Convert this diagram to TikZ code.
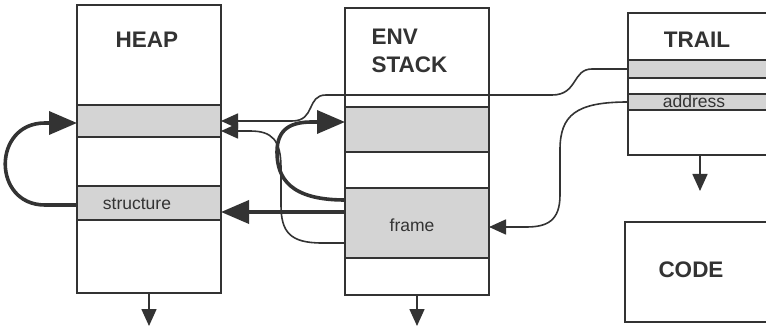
\documentclass[tikz,border=0pt]{standalone}
\usepackage{fontspec}
\setmainfont{Liberation Sans}
\usetikzlibrary{positioning, arrows.meta}
\definecolor{ink}{HTML}{333333}
\definecolor{shade}{HTML}{D4D4D4}

\begin{document}
\begin{tikzpicture}[
    x=1pt, y=-1pt,
    cell/.style={draw=ink, line width=2pt, minimum width=144pt, inner sep=0pt, outer sep=0pt},
    band/.style={cell, fill=shade},
    title/.style={text=ink, font=\bfseries\fontsize{22.5}{28}\selectfont},
    tag/.style={text=ink, font=\fontsize{17.5}{20}\selectfont},
    link/.style={draw=ink, line width=1.6pt, -{Triangle[length=17pt, width=15pt]}},
    bold link/.style={draw=ink, line width=3.6pt, -{Triangle[length=28pt, width=23pt]}}
]
    \useasboundingbox (0,0) rectangle (766,331);
    \clip (0,0) rectangle (766,331);

    % heap
    \node[cell, minimum height=100pt, anchor=north west] (heap0) at (77,5) {};
    \node[band, minimum height=32pt, below=0pt of heap0] (heap1) {};
    \node[cell, minimum height=49pt, below=0pt of heap1] (heap2) {};
    \node[band, minimum height=34pt, below=0pt of heap2] (heap3) {};
    \node[cell, minimum height=73pt, below=0pt of heap3] (heap4) {};
    \coordinate[below=33pt of heap4] (heapnext);

    % environment stack
    \node[cell, minimum height=87pt, anchor=north west] (env0) at (345,8) {};
    \node[cell, minimum height=12pt, below=0pt of env0] (env1) {};
    \node[band, minimum height=45pt, below=0pt of env1] (env2) {};
    \node[cell, minimum height=36pt, below=0pt of env2] (env3) {};
    \node[band, minimum height=70pt, below=0pt of env3] (env4) {};
    \node[cell, minimum height=37pt, below=0pt of env4] (env5) {};
    \coordinate[below=31pt of env5] (envnext);

    % trail
    \node[cell, minimum height=47pt, anchor=north west] (trail0) at (628,13) {};
    \node[band, minimum height=18pt, below=0pt of trail0] (trail1) {};
    \node[cell, minimum height=16pt, below=0pt of trail1] (trail2) {};
    \node[band, minimum height=16pt, below=0pt of trail2] (trail3) {};
    \node[cell, minimum height=45pt, below=0pt of trail3] (trail4) {};
    \coordinate[below=36pt of trail4] (trailnext);

    % code
    \node[cell, minimum height=100pt, anchor=north west] (code) at (625,222) {};

    % labels
    \node[title] (heaptitle) at (147,40) {HEAP};
    \node[title, align=left, anchor=west] (envtitle) at (368,51) {ENV\\STACK};
    \node[title] (trailtitle) at (697,40) {TRAIL};
    \node[title] (codetitle) at (691,270) {CODE};
    \node[tag] (structtag) at (137,204) {structure};
    \node[tag] (frametag) at (412,225) {frame};
    \node[tag] (addrtag) at (694,101) {address};

    % growth arrows
    \draw[link] (heap4.south) -- (heapnext);
    \draw[link] (env5.south) -- (envnext);
    \draw[link] (trail4.south) -- (trailnext);

    % pointers
    \draw[bold link] ([yshift=-2pt]heap3.west) -- (45,205) .. controls (-8,205) and (-8,123) .. (45,123) -- ([yshift=-2pt]heap1.west);
    \draw[bold link] ([yshift=23pt]env4.west) .. controls (290,200) and (277,178) .. (277,152) .. controls (277,128) and (292,122) .. (312,122) -- ([yshift=7.5pt]env2.west);
    \draw[bold link] ([yshift=11pt]env4.west) -- ([yshift=-9pt]heap3.east);
    \draw[link] (trail1.west) -- (592,69) .. controls (572,69) and (578,95) .. (552,95) -- (326,95) .. controls (306,95) and (316,121) .. (292,121) -- (heap1.east);
    \draw[link] ([yshift=-20pt]env4.west) -- (322,243) .. controls (290,243) and (281,232) .. (281,205) -- (281,168) .. controls (281,140) and (272,131) .. (250,131) -- ([yshift=-10pt]heap1.east);
    \draw[link] (trail3.west) .. controls (576,102) and (560,115) .. (560,150) -- (560,195) .. controls (560,221) and (547,227) .. (526,227) -- ([yshift=-4pt]env4.east);

\end{tikzpicture}
\end{document}
